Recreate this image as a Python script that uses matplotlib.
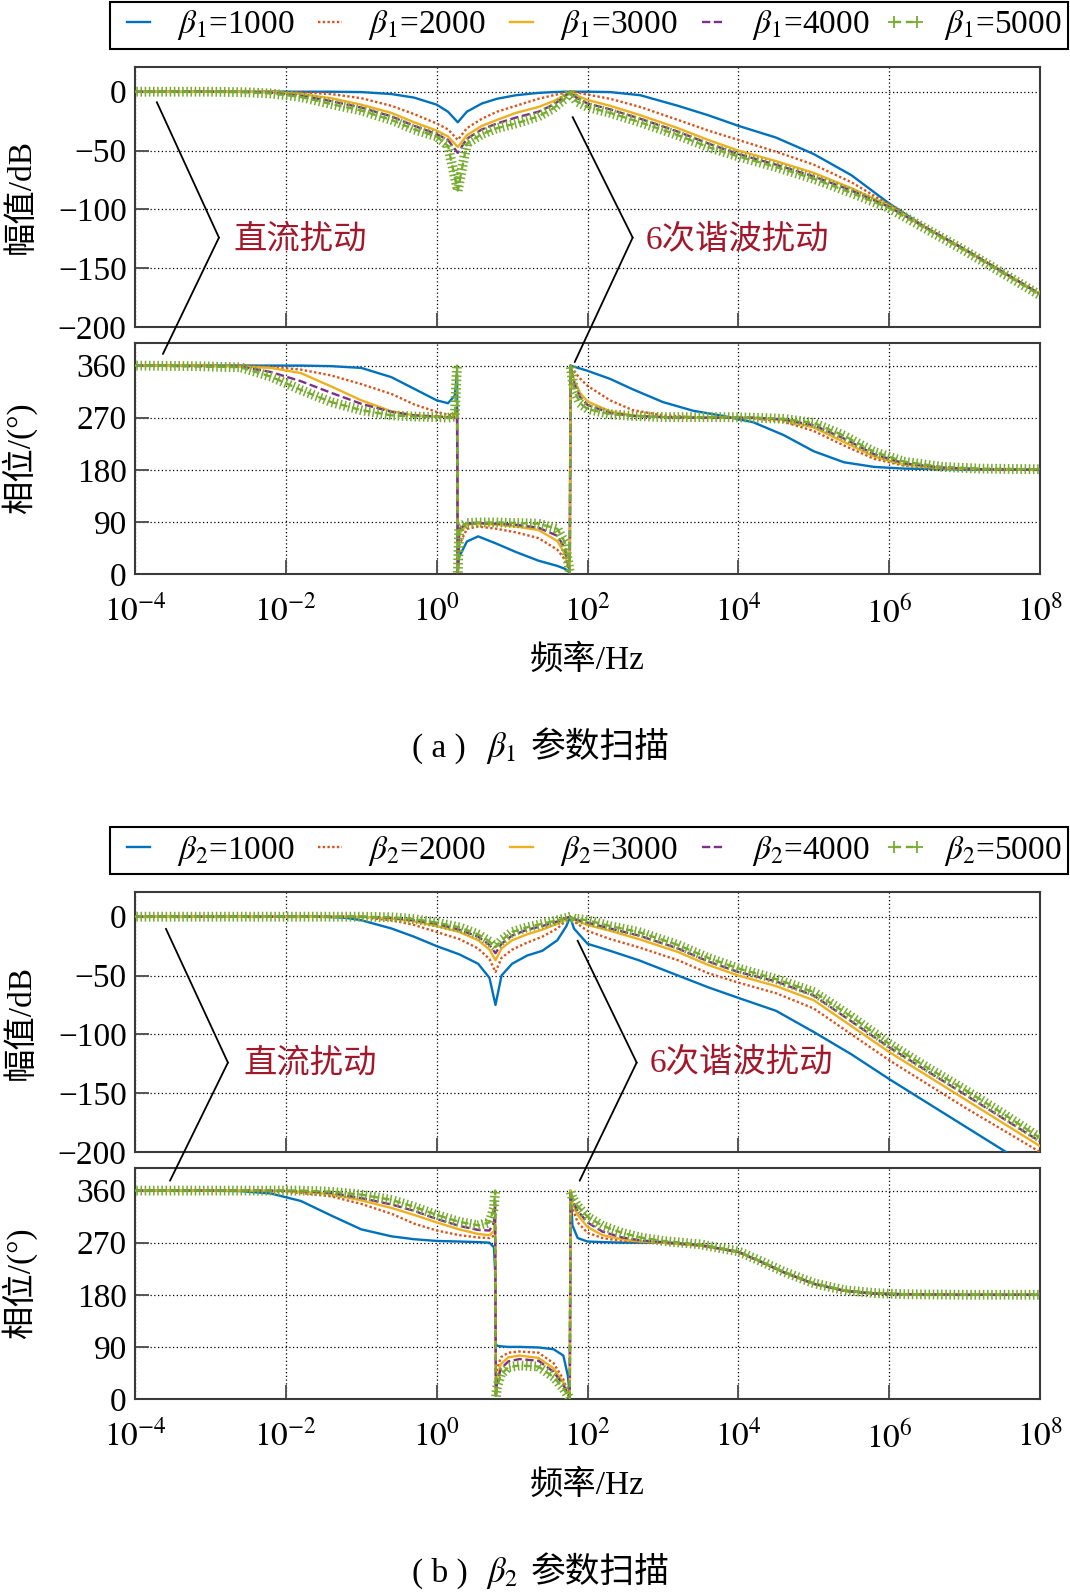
import numpy as np
import matplotlib
matplotlib.use("Agg")
import matplotlib.pyplot as plt
import matplotlib.patheffects as pe
from matplotlib.lines import Line2D
from matplotlib.patches import ConnectionPatch
from matplotlib.ticker import NullLocator

plt.rcParams["font.family"] = ["Liberation Serif", "Noto Sans CJK SC"]
plt.rcParams["mathtext.fontset"] = "stix"
plt.rcParams["axes.unicode_minus"] = True

BETAS = [1000, 2000, 3000, 4000, 5000]
XTICK_EXP = [-4, -2, 0, 2, 4, 6, 8]
MAG_TICKS = [0, -50, -100, -150, -200]
PH_TICKS = [0, 90, 180, 270, 360]

# ---- (a) beta1 sweep: magnitude (dB) vs log10(f/Hz) ----
A_MAG_LOGF = [-4, -3, -2.5, -2.2, -1.8, -1.4, -1.0, -0.6, -0.3, 0.0, 0.15, 0.28, 0.4, 0.6, 0.8,
              1.05, 1.35, 1.55, 1.7, 1.77, 1.85, 2.0, 2.3, 2.7, 3.2, 3.6, 4.0, 4.5, 5.0, 5.5,
              6.0, 6.5, 7.0, 7.5, 8.0]
A_MAG_1000 = [0, 0, 0, 0, 0, 0, -0.3, -2, -5, -11, -17, -26, -17, -10, -6, -3, -1, -0.3, 0, 0,
              0, 0, -0.3, -3, -12, -20, -29, -39, -53, -71, -95, -116, -134, -153, -172]
A_MAG_2000 = [0, 0, 0, 0, -0.5, -2, -5.5, -12, -19, -27, -32, -41, -31, -23, -17, -12, -6, -3, -0.8, 0,
              -0.5, -2.5, -6, -13, -24, -33, -41, -51, -62, -77, -96, -116, -134, -153, -172]
A_MAG_3000 = [0, 0, 0, -0.3, -2, -5.5, -11, -18, -26, -33, -38, -47, -37, -29, -24, -18, -13, -8, -3, 0,
              -3, -7, -12, -20, -31, -41, -50, -59, -69, -82, -97, -116, -134, -153, -172]
A_MAG_4000 = [0, 0, -0.2, -0.8, -3.5, -8, -13.5, -21, -29, -36, -41, -52, -40, -32, -27, -22, -17, -11, -4, 0,
              -5, -10, -15, -23, -34, -44, -53, -62, -72, -84, -98, -116, -134, -153, -172]
A_MAG_5000 = [0, 0, -0.5, -1.5, -4.5, -10.5, -16, -24, -32, -38, -46, -84, -44, -36, -31, -27, -21, -14, -6, 0,
              -8, -13, -18, -26, -37, -47, -55, -64, -74, -86, -99, -117, -135, -154, -173]

# ---- (a) phase (deg) ----
A_PH_LOGF = [-4, -3.2, -2.6, -2.2, -1.8, -1.4, -1.0, -0.6, -0.3, 0.0, 0.15, 0.24, 0.27, 0.28, 0.3,
             0.4, 0.55, 0.8, 1.05, 1.35, 1.6, 1.7, 1.75, 1.765, 1.775, 1.82, 1.9, 2.0, 2.3, 2.6,
             3.0, 3.4, 3.8, 4.2, 4.6, 5.0, 5.4, 5.8, 6.2, 6.7, 7.2, 8.0]
A_PH_1000 = [360, 360, 360, 360, 360, 359, 356, 340, 320, 300, 295, 308, 345, 5, 30, 56, 65, 52, 38, 23,
             14, 9, 4, 1, 360, 358, 355, 351, 337, 319, 297, 282, 273, 262, 240, 212, 193, 185, 182, 181,
             180, 180]
A_PH_2000 = [360, 360, 360, 358, 353, 343, 328, 311, 293, 280, 275, 273, 285, 3, 50, 78, 82, 78, 72, 62,
             42, 25, 8, 2, 360, 350, 338, 325, 300, 283, 274, 271, 270, 269, 263, 247, 222, 199, 187, 182,
             181, 180]
A_PH_3000 = [360, 360, 358, 356, 347, 324, 300, 281, 274, 272, 271, 271, 280, 2, 70, 85, 87, 85, 82, 76,
             57, 35, 10, 2, 360, 335, 313, 298, 281, 274, 271, 270, 270, 270, 266, 253, 228, 203, 189, 183,
             181, 180]
A_PH_4000 = [360, 359, 358, 349, 333, 313, 294, 280, 274, 272, 271, 271, 285, 1, 78, 87, 88, 87, 85, 80,
             66, 45, 12, 2, 360, 330, 306, 292, 278, 273, 271, 270, 270, 270, 267, 257, 234, 207, 191, 184,
             181, 180]
A_PH_5000 = [360, 359, 357, 341, 318, 297, 283, 274, 272, 271, 270, 272, 360, 0, 80, 88, 89, 89, 88, 87,
             78, 55, 15, 3, 360, 318, 295, 285, 276, 273, 271, 271, 271, 270, 268, 261, 239, 211, 194, 185,
             182, 181]

# ---- (b) beta2 sweep: magnitude ----
B_MAG_LOGF = [-4, -2.5, -2.0, -1.5, -1.2, -1.0, -0.6, -0.3, 0.0, 0.3, 0.55, 0.7, 0.78, 0.86, 1.0,
              1.2, 1.4, 1.6, 1.72, 1.77, 1.82, 2.0, 2.3, 2.68, 3.2, 3.6, 4.0, 4.5, 5.0, 5.5,
              6.0, 6.5, 7.0, 7.5, 8.0]
B_MAG_1000 = [0, 0, 0, 0, -1, -3, -10, -17, -25, -32, -40, -52, -75, -50, -40, -33, -29, -20, -8, 0,
              -10, -23, -29, -37, -50, -60, -69, -80, -98, -117, -138, -158, -178, -198, -218]
B_MAG_2000 = [0, 0, 0, 0, 0, -0.5, -3, -7, -13, -19, -27, -36, -47, -35, -28, -22, -17, -10, -3, 0,
              -4, -12, -19, -26, -37, -48, -56, -65, -78, -100, -122, -142, -162, -181, -200]
B_MAG_3000 = [0, 0, 0, 0, 0, 0, -1.5, -4, -8, -13, -20, -28, -37, -27, -20, -15, -11, -6, -2, 0,
              -2.5, -7, -12, -19, -30, -41, -50, -59, -71, -93, -115, -135, -155, -175, -195]
B_MAG_4000 = [0, 0, 0, 0, 0, 0, -1, -3, -6, -11, -17, -24, -31, -23, -16, -11, -8, -4, -1, 0,
              -2, -5, -10, -16, -27, -38, -47, -55, -67, -89, -111, -131, -151, -171, -191]
B_MAG_5000 = [0, 0, 0, 0, 0, 0, -0.5, -2, -5, -9, -15, -21, -26, -20, -13, -9, -6, -3, -1, 0,
              -1.5, -3, -8, -13, -24, -35, -44, -53, -64, -85, -108, -128, -147, -167, -188]

# ---- (b) phase ----
B_PH_LOGF = [-4, -3, -2.6, -2.2, -1.8, -1.4, -1.0, -0.6, -0.3, 0.0, 0.3, 0.55, 0.7, 0.76, 0.775,
             0.785, 0.8, 0.85, 0.95, 1.1, 1.35, 1.55, 1.68, 1.74, 1.765, 1.775, 1.8, 1.87, 2.0, 2.2,
             2.46, 2.7, 3.0, 3.5, 4.0, 4.3, 4.6, 5.0, 5.4, 5.8, 6.2, 7.0, 8.0]
B_PH_1000 = [360, 360, 359, 355, 342, 317, 293, 281, 276, 273, 272, 271, 270, 262, 220, 95, 92, 91, 90, 90,
             89, 86, 75, 40, 5, 360, 300, 278, 272, 271, 270, 270, 270, 265, 254, 237, 219, 199, 187, 182,
             181, 180, 180]
B_PH_2000 = [360, 360, 360, 359, 356, 350, 337, 320, 303, 291, 283, 279, 278, 282, 300, 10, 50, 72, 80, 82,
             80, 62, 34, 12, 3, 360, 330, 305, 287, 278, 273, 271, 270, 265, 254, 237, 219, 199, 187, 182,
             181, 180, 180]
B_PH_3000 = [360, 360, 360, 360, 358, 354, 343, 330, 318, 305, 293, 285, 283, 290, 320, 8, 35, 60, 72, 75,
             71, 53, 28, 10, 3, 360, 338, 318, 297, 283, 276, 272, 270, 265, 254, 237, 219, 199, 187, 182,
             181, 180, 180]
B_PH_4000 = [360, 360, 360, 360, 359, 356, 347, 336, 325, 311, 299, 292, 291, 305, 340, 6, 28, 52, 65, 69,
             66, 47, 24, 8, 2, 360, 343, 325, 305, 289, 279, 274, 271, 266, 254, 237, 219, 199, 187, 182,
             181, 180, 180]
B_PH_5000 = [360, 360, 360, 360, 360, 358, 353, 344, 332, 318, 306, 300, 305, 330, 360, 2, 20, 42, 55, 58,
             56, 38, 18, 6, 1, 360, 348, 333, 315, 299, 287, 279, 273, 267, 255, 238, 220, 200, 188, 183,
             181, 180, 180]

COLORS = ["#0072BD", "#D95319", "#EDB120", "#7E2F8E", "#77AC30"]
STYLES = ["-", (0, (1.0, 1.0)), "-", (0, (3.5, 1.5)), (0, (3, 2))]
ANNOT_RED = "#A3172B"

W, H = 1070, 1592
fig = plt.figure(figsize=(W / 100, H / 100), dpi=100)


def px_axes(left, top, right, bottom):
    return fig.add_axes([left / W, 1 - bottom / H, (right - left) / W, (bottom - top) / H])


def draw_curves(ax, logf, series):
    f = 10.0 ** np.asarray(logf)
    lines = []
    for i, vals in enumerate(series):
        vals = np.asarray(vals, dtype=float)
        if i == 4:
            # "+" marker band of the 5000 curve, left off the vertical phase wraps
            ticks = [pe.TickedStroke(spacing=3.0, angle=90, length=1.0, linewidth=1.1),
                     pe.TickedStroke(spacing=3.0, angle=-90, length=1.0, linewidth=1.1)]
            cuts = np.where(np.abs(np.diff(vals)) > 150)[0] + 1
            for fs, vs in zip(np.split(f, cuts), np.split(vals, cuts)):
                ax.plot(fs, vs, color=COLORS[i], lw=1.0, path_effects=ticks, zorder=6)
        ln, = ax.plot(f, vals, color=COLORS[i], ls=STYLES[i], lw=1.7, zorder=3 + i * 0.5)
        lines.append(ln)
    return lines


def style_axes(ax, yticks, ylim, xlabels):
    ax.set_xscale("log")
    ax.set_xlim(1e-4, 1e8)
    ax.set_ylim(*ylim)
    ax.set_xticks([10.0 ** e for e in XTICK_EXP])
    ax.xaxis.set_minor_locator(NullLocator())
    if xlabels:
        ax.set_xticklabels([r"$10^{%d}$" % e for e in XTICK_EXP])
    else:
        ax.set_xticklabels([])
    ax.set_yticks(yticks)
    ax.tick_params(direction="in", length=10, width=1.4, color="#555555", labelsize=24,
                   top=False, right=False)
    ax.tick_params(axis="y", pad=6)
    ax.tick_params(axis="x", pad=15)
    ax.grid(True, ls=(0, (1, 2)), color="black", lw=0.9)
    for s in ax.spines.values():
        s.set_linewidth(1.5)
        s.set_color("#3a3a3a")


def panel(off, mag_logf, mags, ph_logf, phs, sub, tag, notes):
    ax_m = px_axes(135, 67 + off, 1040, 327 + off)
    ax_p = px_axes(135, 343 + off, 1040, 574 + off)
    lines = draw_curves(ax_m, mag_logf, mags)
    draw_curves(ax_p, ph_logf, phs)
    style_axes(ax_m, MAG_TICKS, (-200, 21), False)
    style_axes(ax_p, PH_TICKS, (0, 399), True)
    ax_m.set_ylabel("幅值/dB", fontsize=24)
    ax_p.set_ylabel("相位/(°)", fontsize=24)
    ax_m.yaxis.set_label_coords(-0.108, 0.5)
    ax_p.yaxis.set_label_coords(-0.108, 0.5)
    ax_p.set_xlabel("频率/Hz", fontsize=24)
    ax_p.xaxis.set_label_coords(0.5, -0.305)

    # bracket-shaped pointer lines and their labels
    for (s, v, e, tx, txt) in notes:
        ax_m.plot([10 ** s[0], 10 ** v[0]], [s[1], v[1]], color="black", lw=1.3,
                  clip_on=False, zorder=7)
        con = ConnectionPatch(xyA=(10 ** v[0], v[1]), xyB=(10 ** e[0], e[1]),
                              coordsA="data", coordsB="data", axesA=ax_m, axesB=ax_p,
                              color="black", lw=1.3, zorder=7)
        fig.add_artist(con)
        ax_m.text(10 ** tx[0], tx[1], txt, color=ANNOT_RED, fontsize=24,
                  ha="left", va="center", zorder=8)

    # legend
    green_proxy = Line2D([], [], color=COLORS[4], ls=STYLES[4], lw=1.7, marker="+",
                         ms=9, mew=1.3)
    handles = lines[:4] + [green_proxy]
    labels = [r"$\beta_{%s}$=%d" % (sub, b) for b in BETAS]
    leg = fig.legend(handles, labels, loc="center",
                     bbox_to_anchor=(110 / W, 1 - (49 + off) / H, 958 / W, 47 / H),
                     mode="expand", ncol=5, borderaxespad=0, fontsize=24, frameon=True,
                     fancybox=False, edgecolor="black", framealpha=1, handlelength=1.3,
                     handletextpad=0.5, borderpad=0.2, numpoints=2)
    leg.get_frame().set_linewidth(1.5)

    # caption
    yb = 1 - (757 + off) / H
    fig.text(412 / W, yb, "( %s )" % tag, fontsize=24, va="baseline")
    fig.text(486 / W, yb, r"$\beta_{%s}$" % sub, fontsize=25, va="baseline")
    fig.text(531 / W, yb, "参数扫描", fontsize=25, va="baseline")


NOTES_A = [((-3.71, -9), (-2.887, -124), (-3.63, 380), (-2.70, -126), "直流扰动"),
           ((1.804, -21.7), (2.599, -124), (1.830, 366), (2.767, -126), "6次谐波扰动")]
NOTES_B = [((-3.589, -10.4), (-2.768, -124), (-3.536, 377), (-2.561, -125), "直流扰动"),
           ((1.870, -20.5), (2.652, -124), (1.896, 377), (2.82, -125), "6次谐波扰动")]

panel(0, A_MAG_LOGF, [A_MAG_1000, A_MAG_2000, A_MAG_3000, A_MAG_4000, A_MAG_5000],
      A_PH_LOGF, [A_PH_1000, A_PH_2000, A_PH_3000, A_PH_4000, A_PH_5000], "1", "a", NOTES_A)
panel(825, B_MAG_LOGF, [B_MAG_1000, B_MAG_2000, B_MAG_3000, B_MAG_4000, B_MAG_5000],
      B_PH_LOGF, [B_PH_1000, B_PH_2000, B_PH_3000, B_PH_4000, B_PH_5000], "2", "b", NOTES_B)

fig.savefig("out.png", dpi=100)
